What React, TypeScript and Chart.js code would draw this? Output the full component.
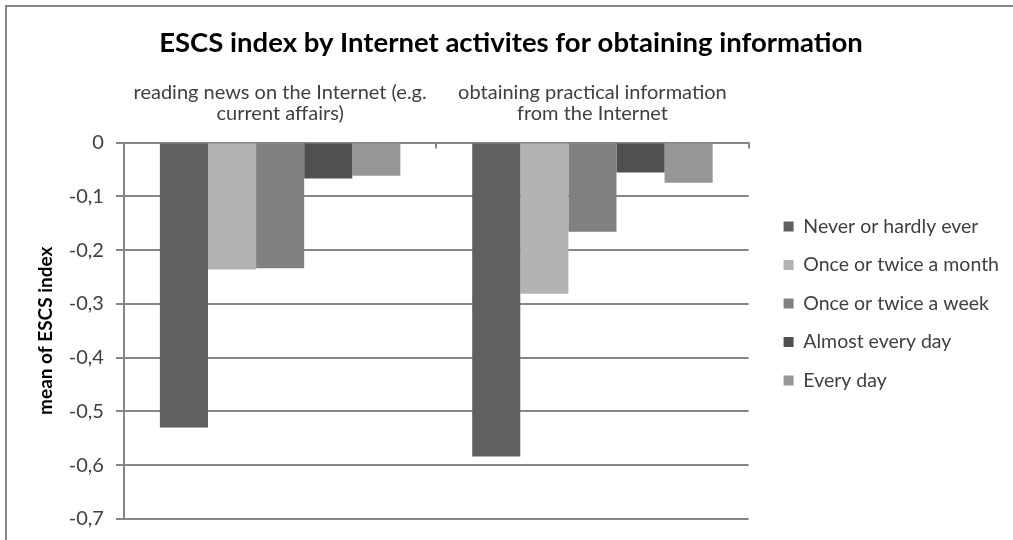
import React, { useEffect, useRef } from "react";
import { Chart, registerables } from "chart.js";

Chart.register(...registerables);

const categories: string[][] = [
  ["reading news on the Internet (e.g.", "current affairs)"],
  ["obtaining practical information", "from the Internet"],
];
const seriesNames: string[] = [
  "Never or hardly ever",
  "Once or twice a month",
  "Once or twice a week",
  "Almost every day",
  "Every day",
];
const neverValues: number[] = [-0.53, -0.584];
const monthValues: number[] = [-0.236, -0.281];
const weekValues: number[] = [-0.234, -0.166];
const almostValues: number[] = [-0.067, -0.056];
const everyValues: number[] = [-0.062, -0.075];
const seriesColors: string[] = ["#606060", "#b2b2b2", "#808080", "#505050", "#969696"];
const chartTitle = "ESCS index by Internet activites for obtaining information";
const yTitle = "mean of ESCS index";
const yMin = -0.7;
const yMax = 0;
const yStep = 0.1;

const LEGEND_GAP = 16;
const LEGEND_DY = 44;

const framePlugin = {
  id: "frame",
  beforeDraw(chart: any) {
    const ctx = chart.ctx;
    ctx.save();
    ctx.fillStyle = "#ffffff";
    ctx.fillRect(0, 0, chart.width, chart.height);
    ctx.strokeStyle = "#868686";
    ctx.lineWidth = 2;
    ctx.strokeRect(6, 6, chart.width + 20, chart.height + 20);
    ctx.restore();
  },
};

const legendGapPlugin = {
  id: "legendGap",
  beforeLayout(chart: any) {
    const lg = chart.legend;
    if (lg && !lg.__wrapped) {
      const orig = lg.fit.bind(lg);
      lg.fit = function () {
        orig();
        this.width += LEGEND_GAP;
      };
      lg.__wrapped = true;
    }
  },
  afterLayout(chart: any) {
    const lg = chart.legend;
    if (lg) {
      lg.left += LEGEND_GAP;
      lg.top += LEGEND_DY;
      lg.bottom += LEGEND_DY;
    }
  },
};

const catTickPlugin = {
  id: "catTicks",
  afterDraw(chart: any) {
    const xs = chart.scales.x;
    const ys = chart.scales.y;
    const ctx = chart.ctx;
    const n = categories.length;
    const y0 = ys.getPixelForValue(0);
    ctx.save();
    ctx.strokeStyle = "#868686";
    ctx.lineWidth = 2;
    for (let i = 0; i < n; i++) {
      const half = n > 1 ? (xs.getPixelForValue(1) - xs.getPixelForValue(0)) / 2 : xs.width / 2;
      const xr = Math.round(xs.getPixelForValue(i) + half);
      ctx.beginPath();
      ctx.moveTo(xr, y0);
      ctx.lineTo(xr, y0 + 6);
      ctx.stroke();
    }
    ctx.restore();
  },
};

export default function App() {
  const ref = useRef<HTMLCanvasElement | null>(null);

  useEffect(() => {
    document.body.style.margin = "0";
    if (!ref.current) return;
    const values = [neverValues, monthValues, weekValues, almostValues, everyValues];
    const chart = new Chart(ref.current, {
      type: "bar",
      data: {
        labels: categories,
        datasets: seriesNames.map((name, i) => ({
          label: name,
          data: values[i],
          backgroundColor: seriesColors[i],
          borderWidth: 0,
          categoryPercentage: 0.77,
          barPercentage: 1,
        })),
      },
      options: {
        animation: false,
        responsive: true,
        maintainAspectRatio: false,
        layout: { padding: { left: 13, right: 4, top: 0, bottom: 21 } },
        plugins: {
          title: {
            display: true,
            text: chartTitle,
            color: "#000000",
            font: { family: "Lato", size: 27.5, weight: "bold" },
            padding: { top: 26.5, bottom: 4 },
          },
          legend: {
            position: "right",
            labels: {
              boxWidth: 10,
              boxHeight: 10,
              padding: 19,
              color: "#404040",
              font: { family: "Lato", size: 19.5 },
            },
          },
          tooltip: { enabled: false },
        },
        scales: {
          x: {
            position: "top",
            grid: { drawOnChartArea: false, drawTicks: false, offset: true },
            border: { color: "#868686", width: 2 },
            ticks: {
              color: "#404040",
              font: { family: "Lato", size: 20, lineHeight: 1.05 },
              padding: 18.5,
              maxRotation: 0,
            },
          },
          y: {
            min: yMin,
            max: yMax,
            afterFit: (scale: any) => {
              scale.paddingBottom = 0;
            },
            grid: { color: "#868686", lineWidth: 2, tickLength: 8 },
            border: { color: "#868686", width: 2 },
            ticks: {
              stepSize: yStep,
              color: "#404040",
              padding: 12,
              font: { family: "Lato", size: 20 },
              callback: (v: any) => {
                const n = Number(v);
                if (Math.abs(n) < 1e-9) return "0";
                return n.toFixed(1).replace(".", ",");
              },
            },
            title: {
              display: true,
              text: yTitle,
              color: "#000000",
              font: { family: "Lato", size: 19, weight: "bold" },
              padding: { top: 21, bottom: 0 },
            },
          },
        },
      },
      plugins: [framePlugin, legendGapPlugin, catTickPlugin],
    });
    return () => chart.destroy();
  }, []);

  return (
    <div style={{ position: "relative", width: 1013, height: 540 }}>
      <canvas ref={ref} />
    </div>
  );
}
